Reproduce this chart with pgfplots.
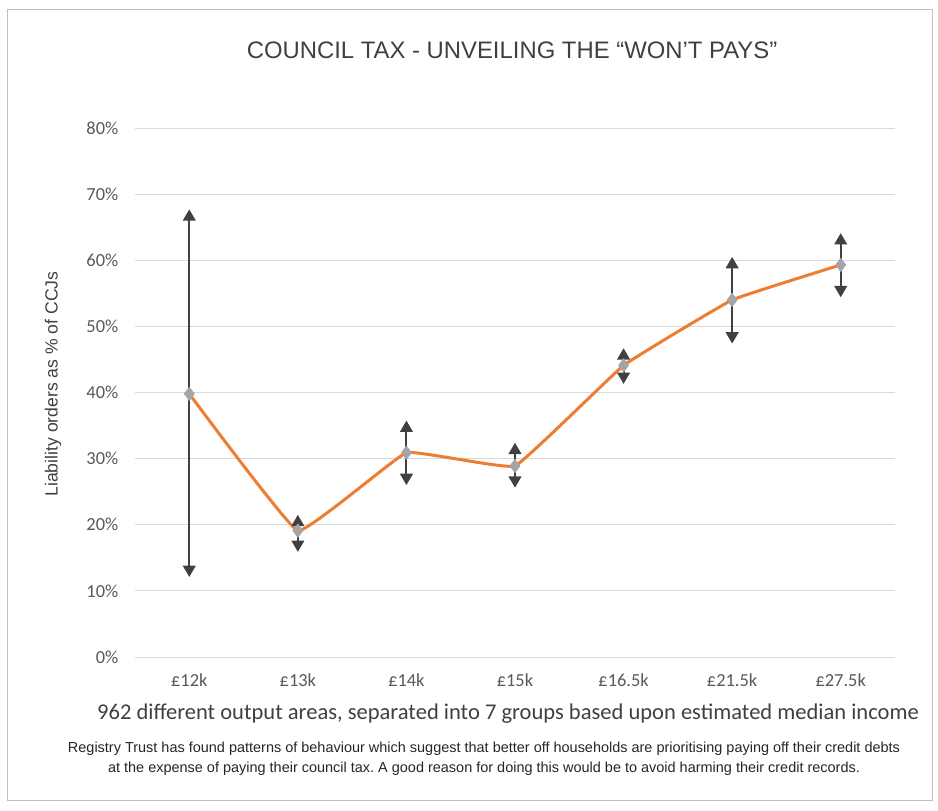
\documentclass[border=0pt]{standalone}
\usepackage{fontspec}
\setmainfont{Liberation Sans}
\newfontfamily\calibri{Carlito}
\usepackage{pgfplots}
\pgfplotsset{compat=1.18}
\usetikzlibrary{arrows.meta}
\definecolor{orangeline}{HTML}{ED7D31}
\definecolor{ebar}{HTML}{404040}
\definecolor{gridc}{HTML}{D9D9D9}
\definecolor{tickc}{HTML}{595959}
\definecolor{framec}{HTML}{BFBFBF}
\definecolor{markc}{HTML}{A5A5A5}
\definecolor{textc}{HTML}{404040}
\frenchspacing
\begin{document}
\begin{tikzpicture}[x=0.75pt,y=0.75pt]
\path (0,0) rectangle (938,810);
\draw[framec, line width=0.75pt] (7,10) rectangle (932,800);
\begin{axis}[at={(101.25pt,114.75pt)}, anchor=south west, scale only axis,
  width=570pt, height=396.75pt,
  xmin=-0.5, xmax=6.5, ymin=0, ymax=80,
  xtick={0,1,2,3,4,5,6},
  xticklabels={£12k,£13k,£14k,£15k,£16.5k,£21.5k,£27.5k},
  ytick={0,10,20,30,40,50,60,70,80},
  yticklabels={0\%,10\%,20\%,30\%,40\%,50\%,60\%,70\%,80\%},
  axis line style={draw=none}, major tick length=0pt,
  ymajorgrids, grid style={gridc, line width=0.75pt},
  ticklabel style={font=\calibri\fontsize{13.8}{15}\selectfont, text=tickc},
  yticklabel style={xshift=-9pt},
  xticklabel style={yshift=-9pt},
  clip=false]
\addplot[orangeline, line width=2.25pt, smooth, tension=0.15, mark=diamond*, mark size=5pt,
  mark options={fill=markc, draw=markc, solid, line width=0.5pt}]
  coordinates {(0,39.8)(1,19.1)(2,30.9)(3,28.9)(4,44.1)(5,54.0)(6,59.3)};
\addplot[ebar, line width=1.5pt, {Triangle[width=9.5pt,length=8.5pt]}-{Triangle[width=9.5pt,length=8.5pt]}] coordinates {(0,12.1)(0,67.7)};
\addplot[ebar, line width=1.5pt, {Triangle[width=9.5pt,length=8.5pt]}-{Triangle[width=9.5pt,length=8.5pt]}] coordinates {(1,15.9)(1,21.5)};
\addplot[ebar, line width=1.5pt, {Triangle[width=9.5pt,length=8.5pt]}-{Triangle[width=9.5pt,length=8.5pt]}] coordinates {(2,26.0)(2,35.75)};
\addplot[ebar, line width=1.5pt, {Triangle[width=9.5pt,length=8.5pt]}-{Triangle[width=9.5pt,length=8.5pt]}] coordinates {(3,25.6)(3,32.4)};
\addplot[ebar, line width=1.5pt, {Triangle[width=9.5pt,length=8.5pt]}-{Triangle[width=9.5pt,length=8.5pt]}] coordinates {(4,41.3)(4,46.7)};
\addplot[ebar, line width=1.5pt, {Triangle[width=9.5pt,length=8.5pt]}-{Triangle[width=9.5pt,length=8.5pt]}] coordinates {(5,47.4)(5,60.5)};
\addplot[ebar, line width=1.5pt, {Triangle[width=9.5pt,length=8.5pt]}-{Triangle[width=9.5pt,length=8.5pt]}] coordinates {(6,54.4)(6,64.1)};
\end{axis}
\node[text=textc, font=\fontsize{17.9}{20}\selectfont] at (512,760) {COUNCIL TAX - UNVEILING THE “WON’T PAYS”};
\node[text=textc, rotate=90, font=\fontsize{13.2}{15}\selectfont] at (53,426) {Liability orders as \% of CCJs};
\node[text=textc, font=\calibri\fontsize{16.9}{18}\selectfont] at (508,96) {962 different output areas, separated into 7 groups based upon estimated median income};
\node[text=black!85, align=center, font=\fontsize{10.85}{15}\selectfont] at (484,51) {Registry Trust has found patterns of behaviour which suggest that better off households are prioritising paying off their credit debts\\at the expense of paying their council tax. A good reason for doing this would be to avoid harming their credit records.};
\end{tikzpicture}
\end{document}
